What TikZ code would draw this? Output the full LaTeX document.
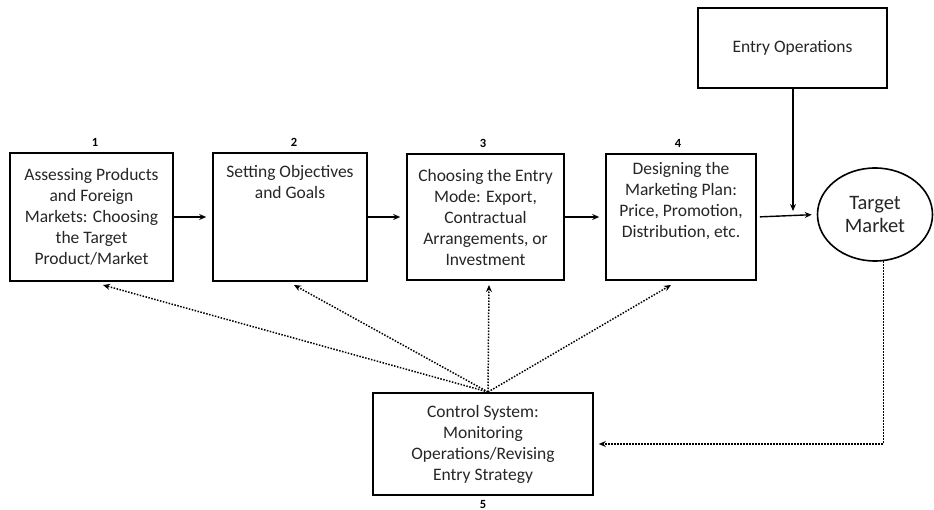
\documentclass[tikz,border=0pt]{standalone}
\usepackage{fontspec}
\setmainfont{Carlito}
\usetikzlibrary{arrows.meta,shapes.geometric}
\begin{document}
\begin{tikzpicture}[x=1pt,y=-1pt,
  boxstyle/.style={draw, line width=1.6pt, inner sep=0pt, align=center,
    font=\fontsize{17.5}{21}\selectfont, text=black!85},
  txt/.style={align=center, inner sep=0pt, font=\fontsize{17.5}{21}\selectfont, text=black!85},
  numlbl/.style={font=\fontsize{12.5}{14}\selectfont\bfseries, inner sep=0pt},
  solidarrow/.style={line width=1.4pt, -{Stealth[length=7pt,width=6pt]}},
  dotarrow/.style={line width=1.5pt, dash pattern=on 1.5pt off 1.5pt, -{Stealth[length=7pt,width=6pt]}}
]
\useasboundingbox (0,0) rectangle (934,510);
\fill[white] (0,0) rectangle (934,510);

\node[boxstyle, minimum width=163pt, minimum height=128pt] (b1) at (91.5,217)
  {Assessing Products\\and Foreign\\Markets: Choosing\\the Target\\Product/Market};
\node[boxstyle, minimum width=154pt, minimum height=128pt] (b2) at (290,217) {};
\node[txt, anchor=north] (b2t) at (290,165) {Setting Objectives\\and Goals};
\node[boxstyle, minimum width=157pt, minimum height=126pt] (b3) at (485.5,217)
  {Choosing the Entry\\Mode: Export,\\Contractual\\Arrangements, or\\Investment};
\node[boxstyle, minimum width=150pt, minimum height=126pt] (b4) at (681,217) {};
\node[txt, anchor=north] (b4t) at (681,162) {Designing the\\Marketing Plan:\\Price, Promotion,\\Distribution, etc.};
\node[boxstyle, minimum width=189pt, minimum height=80pt] (eo) at (792.5,48) {Entry Operations};
\node[boxstyle, ellipse, minimum width=115pt, minimum height=93pt,
  font=\fontsize{20.5}{23}\selectfont] (tm) at (875,214.5) {Target\\Market};
\node[boxstyle, minimum width=220pt, minimum height=102pt] (cs) at (483,444)
  {Control System:\\Monitoring\\Operations/Revising\\Entry Strategy};

\node[numlbl] (n1) at (95,142) {1};
\node[numlbl] (n2) at (294,142) {2};
\node[numlbl] (n3) at (483,143) {3};
\node[numlbl] (n4) at (678,143) {4};
\node[numlbl] (n5) at (483,504) {5};

\draw[solidarrow, shorten >=6pt] (b1.east) -- (b2.west);
\draw[solidarrow, shorten >=6pt] (b2.east) -- (b3.west);
\draw[solidarrow, shorten >=6pt] (b3.east) -- (b4.west);
\draw[solidarrow, shorten <=3pt, shorten >=5pt] (b4.east) -- (tm.west);
\coordinate (j) at (793,214);
\draw[solidarrow, shorten >=3pt] (eo.south -| j) -- (j);

\coordinate (cn) at (488,392);
\coordinate (t1) at (103,285);
\coordinate (t2) at (294,285);
\coordinate (t3) at (489,285);
\coordinate (t4) at (671,285);
\draw[dotarrow] (cn) -- (t1);
\draw[dotarrow] (cn) -- (t2);
\draw[dotarrow] (cn) -- (t3);
\draw[dotarrow] (cn) -- (t4);
\draw[dotarrow, shorten >=5pt] (tm.-80) |- (cs.east);
\end{tikzpicture}
\end{document}
